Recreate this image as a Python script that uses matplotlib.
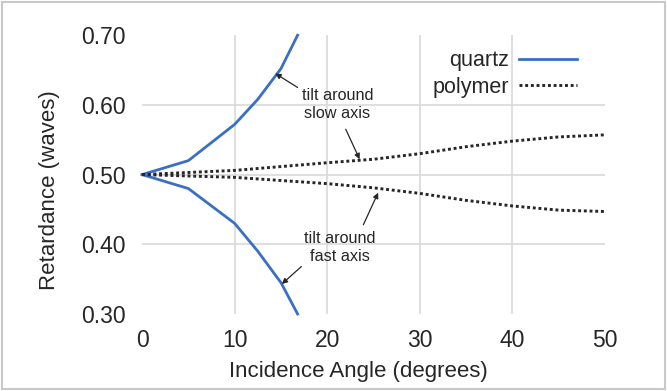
import matplotlib.pyplot as plt
from matplotlib.patches import Rectangle

plt.rcParams['font.family'] = ['Liberation Sans', 'DejaVu Sans']

quartz_angle = [0, 5, 10, 12.5, 15, 16.8]
quartz_slow = [0.50, 0.52, 0.572, 0.608, 0.652, 0.70]
quartz_fast = [0.50, 0.48, 0.43, 0.39, 0.345, 0.30]

polymer_angle = [0, 10, 20, 25, 30, 35, 40, 45, 50]
polymer_slow = [0.50, 0.506, 0.517, 0.522, 0.53, 0.54, 0.548, 0.554, 0.557]
polymer_fast = [0.50, 0.496, 0.487, 0.481, 0.473, 0.463, 0.455, 0.449, 0.447]

blue = '#3a6fc2'
ink = '#262626'

fig = plt.figure(figsize=(6.67, 3.91), dpi=100)
ax = fig.add_axes([0.213, 0.197, 0.694, 0.713])

ax.plot(quartz_angle, quartz_slow, color=blue, lw=2, label='quartz', clip_on=False)
ax.plot(quartz_angle, quartz_fast, color=blue, lw=2, clip_on=False)
ax.plot(polymer_angle, polymer_slow, color=ink, lw=2.1, ls=(0, (1, 0.95)), label='polymer')
ax.plot(polymer_angle, polymer_fast, color=ink, lw=2.1, ls=(0, (1, 0.95)))

ax.set_xlim(0, 50)
ax.set_ylim(0.3, 0.7)
ax.set_xticks([0, 10, 20, 30, 40, 50])
ax.set_yticks([0.3, 0.4, 0.5, 0.6, 0.7])
ax.set_yticklabels(['0.30', '0.40', '0.50', '0.60', '0.70'])
ax.tick_params(length=0, labelsize=16.5, colors=ink, pad=12)
ax.tick_params(axis='x', pad=11)
for s in ax.spines.values():
    s.set_visible(False)

# inner grid lines only, none along the plot edges
for x in [10, 20, 30, 40]:
    ax.axvline(x, color='#d9d9d9', lw=1.2, zorder=0)
for y in [0.4, 0.5, 0.6]:
    ax.axhline(y, color='#d9d9d9', lw=1.2, zorder=0)

ax.set_xlabel('Incidence Angle (degrees)', fontsize=16, color=ink)
ax.set_ylabel('Retardance (waves)', fontsize=16, color=ink)
ax.xaxis.set_label_coords(0.4675, -0.17)
ax.yaxis.set_label_coords(-0.177, 0.444)

arrow = dict(arrowstyle='-|>', color=ink, lw=0.9, mutation_scale=8, shrinkA=0, shrinkB=0)
ax.text(21.1, 0.600, 'tilt around\nslow axis', fontsize=11.7, ha='center', va='center',
        color=ink, linespacing=1.25)
ax.annotate('', xy=(14.4, 0.645), xytext=(16.8, 0.625), arrowprops=arrow)
ax.annotate('', xy=(23.5, 0.522), xytext=(22.0, 0.565), arrowprops=arrow)
ax.text(21.4, 0.395, 'tilt around\nfast axis', fontsize=11.7, ha='center', va='center',
        color=ink, linespacing=1.25)
ax.annotate('', xy=(25.5, 0.474), xytext=(23.9, 0.428), arrowprops=arrow)
ax.annotate('', xy=(15.1, 0.343), xytext=(17.2, 0.368), arrowprops=arrow)

leg = ax.legend(loc='upper right', bbox_to_anchor=(0.982, 1.015), frameon=False, fontsize=15.5,
                markerfirst=False, handlelength=2.7, handletextpad=0.45, labelspacing=0.25)
for t in leg.get_texts():
    t.set_color(ink)

fig.patches.append(Rectangle((0.003, 0.005), 0.994, 0.99, transform=fig.transFigure,
                             fill=False, edgecolor='#c8c8c8', lw=1.5))

fig.savefig('out.png', dpi=100)
